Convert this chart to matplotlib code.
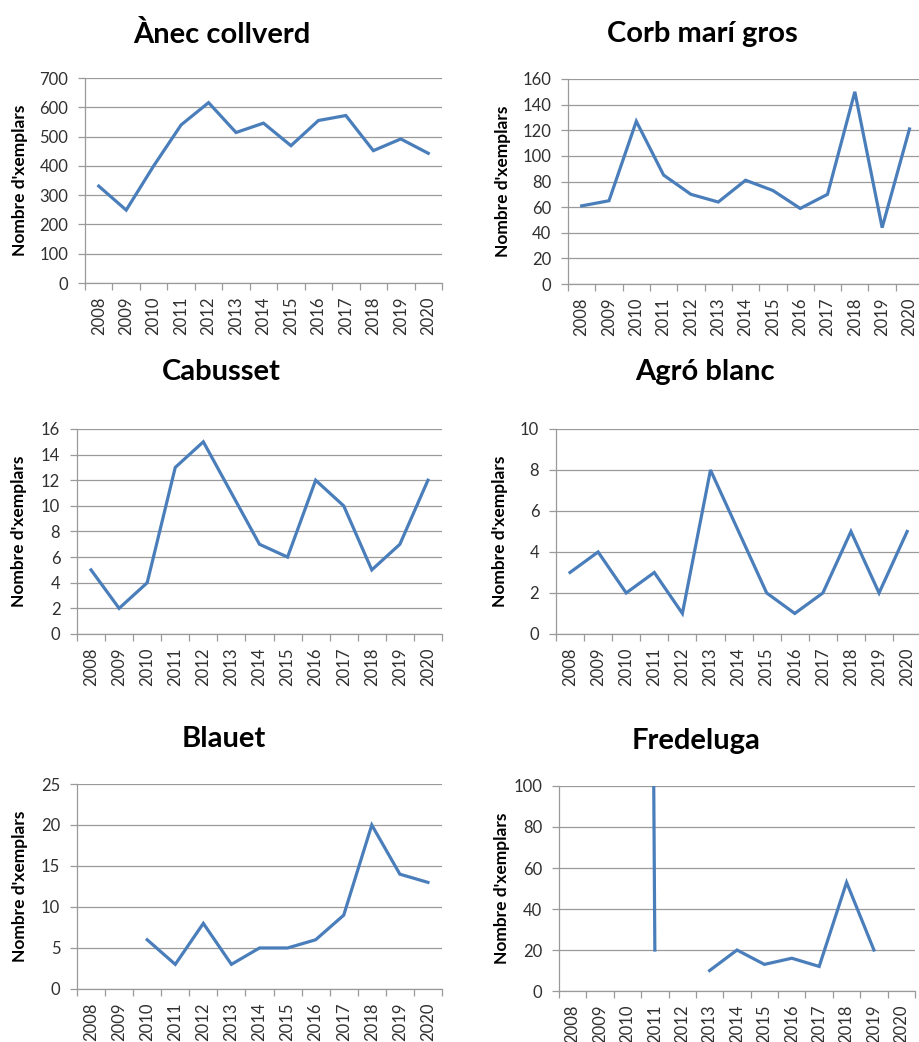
import numpy as np
import matplotlib
matplotlib.use("Agg")
import matplotlib.pyplot as plt

plt.rcParams['font.family'] = ['Lato', 'DejaVu Sans']

years = ['2008', '2009', '2010', '2011', '2012', '2013', '2014',
         '2015', '2016', '2017', '2018', '2019', '2020']
nan = np.nan

anec = [331, 249, 400, 540, 616, 514, 546, 469, 555, 572, 452, 492, 443]
corb = [61, 65, 127, 85, 70, 64, 81, 73, 59, 70, 150, 44, 121]
cabusset = [5, 2, 4, 13, 15, 11, 7, 6, 12, 10, 5, 7, 12]
agro = [3, 4, 2, 3, 1, 8, 5, 2, 1, 2, 5, 2, 5]
blauet = [nan, nan, 6, 3, 8, 3, 5, 5, 6, 9, 20, 14, 13]
# 2010 value runs far off the top of the scale
fredeluga = [nan, nan, 2000, 20, nan, 10, 20, 13, 16, 12, 53, 20, nan]

titles = ['Ànec collverd', 'Corb marí gros', 'Cabusset',
          'Agró blanc', 'Blauet', 'Fredeluga']
series = [anec, corb, cabusset, agro, blauet, fredeluga]
ymax = [700, 160, 16, 10, 25, 100]
ystep = [100, 20, 2, 2, 5, 20]

# axes boxes [left, bottom, width, height] and title centres
boxes = [[0.0924, 0.7284, 0.388, 0.1967],
         [0.6174, 0.7274, 0.386, 0.1968],
         [0.0837, 0.3916, 0.3967, 0.1967],
         [0.6043, 0.3916, 0.397, 0.1967],
         [0.0837, 0.0509, 0.3967, 0.1967],
         [0.6076, 0.0489, 0.387, 0.1968]]
title_pos = [(0.241, 0.967), (0.763, 0.967), (0.241, 0.643),
             (0.766, 0.643), (0.243, 0.291), (0.757, 0.289)]
ylabel_x = [20, 503, 19, 500, 20, 502]  # centre of y label, px

line_color = '#4a7ebb'
grid_color = '#9a9a9a'
text_color = '#303030'

fig = plt.figure(figsize=(9.2, 10.42), dpi=100)

for i in range(6):
    ax = fig.add_axes(boxes[i])
    x = np.arange(len(years))
    ax.plot(x, series[i], color=line_color, lw=2.3, solid_joinstyle='miter')
    ax.set_xlim(-0.5, len(years) - 0.5)
    ax.set_ylim(0, ymax[i])
    ax.set_yticks(np.arange(0, ymax[i] + ystep[i] / 2, ystep[i]))
    ax.yaxis.grid(True, color=grid_color, lw=0.9)
    ax.set_axisbelow(True)

    ax.set_xticks(x)
    ax.set_xticklabels(years, rotation=90)
    ax.set_xticks(np.arange(-0.5, len(years), 1), minor=True)
    ax.tick_params(axis='x', which='major', length=0, pad=10,
                   labelsize=12, labelcolor=text_color)
    ax.tick_params(axis='x', which='minor', length=5, color=grid_color,
                   width=0.9, direction='out')
    ax.tick_params(axis='y', length=5, color=grid_color, width=0.9,
                   labelsize=12, labelcolor=text_color, pad=7)

    for s in ['top', 'right']:
        ax.spines[s].set_visible(False)
    for s in ['left', 'bottom']:
        ax.spines[s].set_color(grid_color)
        ax.spines[s].set_linewidth(0.9)

    fig.text(ylabel_x[i] / 920, boxes[i][1] + boxes[i][3] / 2,
             "Nombre d'xemplars", rotation=90, ha='center', va='center',
             fontsize=12.5, fontweight='bold')
    fig.text(title_pos[i][0], title_pos[i][1], titles[i], ha='center',
             va='center', fontsize=21, fontweight='bold')

fig.savefig('out.png', dpi=100)
